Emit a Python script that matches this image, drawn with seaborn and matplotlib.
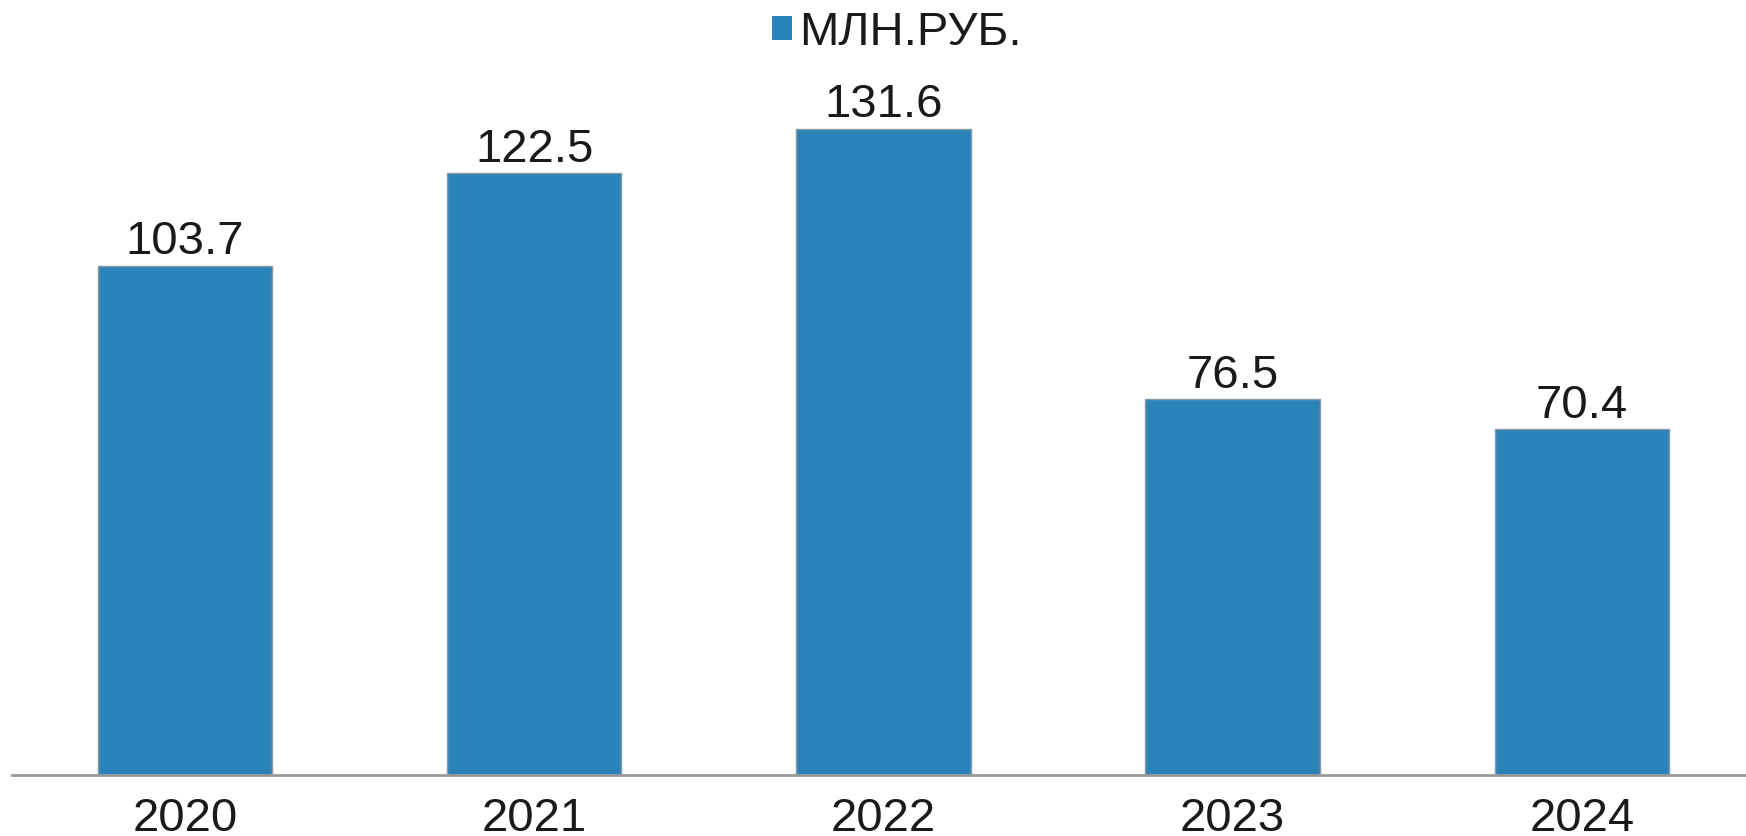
import pandas as pd
import seaborn as sns
import matplotlib.pyplot as plt
from matplotlib.patches import Patch

## values
years = ["2020", "2021", "2022", "2023", "2024"]
values = [103.7, 122.5, 131.6, 76.5, 70.4]
series_name = "МЛН.РУБ."

df = pd.DataFrame({"year": years, "value": values})

sns.set_theme(style="white")
plt.rcParams["font.family"] = ["Liberation Sans", "DejaVu Sans"]

bar_color = "#2b84b9"

fig = plt.figure(figsize=(17.46, 8.36), dpi=100)
ax = fig.add_axes([12 / 1746, 61 / 836, 1 - 12 / 1746, 775 / 836])

sns.barplot(data=df, x="year", y="value", color=bar_color, width=0.5,
            edgecolor="#8a9aa5", linewidth=1, saturation=1, ax=ax)

ax.bar_label(ax.containers[0], labels=[f"{v:.1f}" for v in values],
             fontsize=34, color="#1a1a1a", padding=1)

ax.set_xlim(-0.495, 4.47)
ax.set_ylim(0, 157.8)
ax.set_xlabel("")
ax.set_ylabel("")
ax.set_yticks([])
ax.tick_params(axis="x", length=0, pad=16, labelsize=34, labelcolor="#1a1a1a")

## only the bottom axis line is kept
for side in ["top", "right", "left"]:
    ax.spines[side].set_visible(False)
ax.spines["bottom"].set_color("#9a9a9a")
ax.spines["bottom"].set_linewidth(2)

ax.legend(handles=[Patch(facecolor=bar_color, edgecolor="none", label=series_name)],
          loc="center", bbox_to_anchor=(903 / 1746 - 12 / 1746, 1 - 33 / 775),
          bbox_transform=ax.transAxes, frameon=False, fontsize=34,
          handlelength=0.42, handleheight=0.42, handletextpad=0.15,
          labelcolor="#1a1a1a")

fig.savefig("out.png", dpi=100)
